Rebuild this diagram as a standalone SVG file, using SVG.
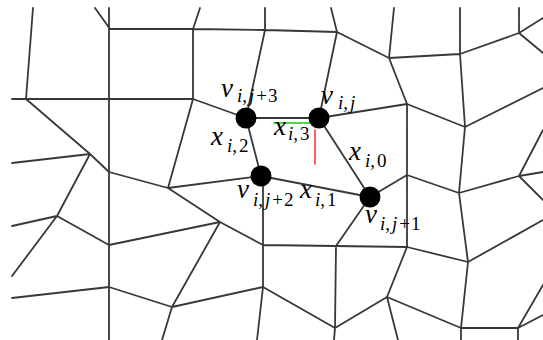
<svg xmlns="http://www.w3.org/2000/svg" width="543" height="340" viewBox="0 0 543 340">
<style>
.m{stroke:#383838;stroke-width:1.8;fill:none;stroke-linecap:round;stroke-linejoin:round}
.dot{fill:#000}
.L{font-family:"Liberation Serif",serif;font-style:italic;font-size:27px;fill:#000}
.s{font-family:"Liberation Serif",serif;font-size:19px;fill:#000}
.i{font-style:italic}
</style>
<rect width="543" height="340" fill="#fff"/>
<g id="connectors" class="m">
<path d="M33,8 L26,99 M12,99 L193,99 M26,99 L90,154 L109,172 M12,163 L90,154 L57,216 M57,216 L12,226 M57,216 L12,276 M57,216 L109,245"/>
<path d="M109,8 L109,340 M95,8 L110,29 L193,29 L265,30 L337,32 M193,29 L200,8 M193,29 L193,99 M265,30 L265,8 M265,30 L246,118"/>
<path d="M337,32 L331,8 M337,32 L319,118 M337,32 L389,58 L460,54 L519,33 M389,58 L394,8 M389,58 L407,104 M460,54 L460,8 M460,54 L465,127 M519,33 L519,8 M519,33 L543,18 M519,33 L543,53"/>
<path d="M319,118 L407,104 L465,127 L543,88 M407,104 L407,247 M465,127 L459,193 L468,262 M407,175 L459,193 L519,176 M519,176 L543,130 M519,176 L543,172 M519,176 L543,200 M407,175 L370,197"/>
<path d="M407,247 L468,262 L543,220 M468,262 L461,328 L461,340 M461,328 L518,328 L518,340 M518,328 L543,285 M518,328 L543,315 M407,247 L387,297 L398,340 M387,297 L461,328"/>
<path d="M263,245 L407,247 M336,246 L370,197 M336,246 L335,328 L334,340 M335,328 L387,297 M263,287 L335,328 M263,176 L263,287 L257,340"/>
<path d="M193,99 L246,118 M193,99 L168,188 M109,172 L168,188 L261,176 M168,188 L220,222 L263,245 M109,245 L220,222 L172,307 M109,287 L172,307 L263,287 M172,307 L162,340 M109,287 L12,298"/>
<path d="M246,118 L319,118 M246,118 L261,176 L370,197 M319,118 L370,197"/>
<path d="M274,123 L310,123" stroke="#4cd84c" stroke-width="2"/>
<path d="M315,130 L315,164" stroke="#ff6060" stroke-width="2"/>
</g>
<g id="v_ij3">
<circle class="dot" cx="246" cy="118" r="10.5"/>
<text x="221" y="97" class="L">v</text>
<text x="237" y="101.5" class="s"><tspan class="i">i</tspan>,<tspan class="i" dx="2">j</tspan><tspan dx="2">+</tspan><tspan dx="1">3</tspan></text>
</g>
<g id="v_ij">
<circle class="dot" cx="319" cy="118" r="10.5"/>
<text x="321" y="104" class="L">v</text>
<text x="338" y="109" class="s"><tspan class="i">i</tspan>,<tspan class="i" dx="2">j</tspan></text>
</g>
<g id="v_ij2">
<circle class="dot" cx="261" cy="176" r="10.5"/>
<text x="237" y="198" class="L">v</text>
<text x="253" y="206" class="s"><tspan class="i">i</tspan>,<tspan class="i" dx="2">j</tspan><tspan dx="2">+</tspan><tspan dx="1">2</tspan></text>
</g>
<g id="v_ij1">
<circle class="dot" cx="370" cy="197" r="10.5"/>
<text x="365" y="223" class="L">v</text>
<text x="380" y="230" class="s"><tspan class="i">i</tspan>,<tspan class="i" dx="2">j</tspan><tspan dx="2">+</tspan><tspan dx="1">1</tspan></text>
</g>
<g id="edge-labels">
<text x="211" y="145" class="L">x</text>
<text x="227" y="152" class="s"><tspan class="i">i</tspan>,<tspan dx="2">2</tspan></text>
<text x="274" y="135" class="L">x</text>
<text x="288" y="140" class="s"><tspan class="i">i</tspan>,<tspan dx="2">3</tspan></text>
<text x="349" y="160" class="L">x</text>
<text x="365" y="167" class="s"><tspan class="i">i</tspan>,<tspan dx="2">0</tspan></text>
<text x="300" y="198" class="L">x</text>
<text x="315" y="206" class="s"><tspan class="i">i</tspan>,<tspan dx="2">1</tspan></text>
</g>
</svg>
